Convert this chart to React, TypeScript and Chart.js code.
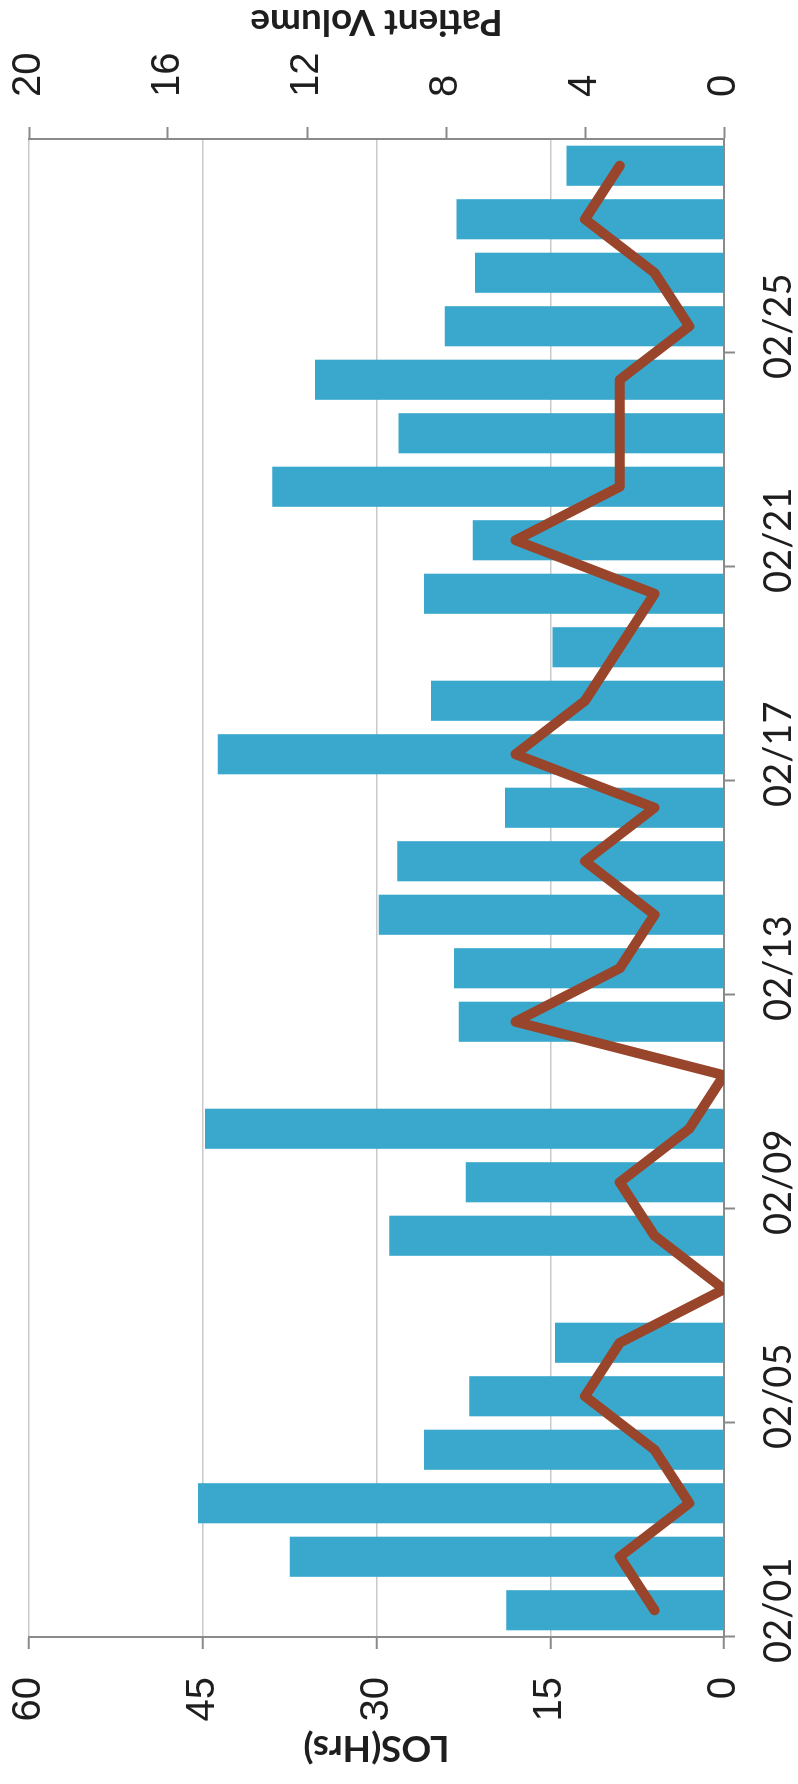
import React, { useEffect, useRef } from 'react';
import { Chart, registerables } from 'chart.js';

Chart.register(...registerables);

// ---- Data (Feb 01 .. Feb 28) ----
const dates = [
  '02/01', '02/02', '02/03', '02/04', '02/05', '02/06', '02/07',
  '02/08', '02/09', '02/10', '02/11', '02/12', '02/13', '02/14',
  '02/15', '02/16', '02/17', '02/18', '02/19', '02/20', '02/21',
  '02/22', '02/23', '02/24', '02/25', '02/26', '02/27', '02/28',
];
const losHours = [
  18.8, 37.5, 45.4, 25.9, 22.0, 14.6, 0,
  28.9, 22.3, 44.8, 0, 22.9, 23.3, 29.8,
  28.2, 18.9, 43.7, 25.3, 14.8, 25.9, 21.7,
  39.0, 28.1, 35.3, 24.1, 21.5, 23.1, 13.6,
];
const patientVolume = [
  2, 3, 1, 2, 4, 3, 0,
  2, 3, 1, 0, 6, 3, 2,
  4, 2, 6, 4, 3, 2, 6,
  3, 3, 3, 1, 2, 4, 3,
];
const losTicks = [0, 15, 30, 45, 60];
const volumeTicks = [0, 4, 8, 12, 16, 20];

// chart is drawn "landscape" then rotated -90deg onto the portrait page
const CW = 1784;
const CH = 798;

const volumeTitlePlugin = {
  id: 'volumeTitle',
  afterDraw(chart: any) {
    const { ctx, chartArea } = chart;
    ctx.save();
    ctx.translate(1762, (chartArea.top + chartArea.bottom) / 2);
    ctx.rotate(-Math.PI / 2);
    ctx.font = 'bold 37px Lato';
    ctx.fillStyle = '#1e1e1e';
    ctx.textAlign = 'center';
    ctx.textBaseline = 'middle';
    ctx.fillText('Patient Volume', 0, 0);
    ctx.restore();
  },
};

const noPad = (s: any) => {
  s.paddingTop = 0;
  s.paddingBottom = 0;
  s.paddingLeft = 0;
  s.paddingRight = 0;
};

export default function App() {
  const ref = useRef<HTMLCanvasElement | null>(null);

  useEffect(() => {
    const canvas = ref.current;
    if (!canvas) return;
    const chart = new Chart(canvas, {
      type: 'bar',
      data: {
        labels: dates,
        datasets: [
          {
            type: 'line',
            label: 'Patient Volume',
            data: patientVolume,
            yAxisID: 'y1',
            borderColor: '#99452b',
            borderWidth: 10,
            borderJoinStyle: 'round',
            borderCapStyle: 'round',
            pointRadius: 0,
            tension: 0,
            order: 0,
          } as any,
          {
            type: 'bar',
            label: 'LOS(Hrs)',
            data: losHours,
            yAxisID: 'y',
            backgroundColor: '#3aa8cc',
            borderWidth: 0,
            barPercentage: 0.75,
            categoryPercentage: 1,
            order: 1,
          },
        ],
      },
      options: {
        responsive: false,
        animation: false,
        devicePixelRatio: 1,
        layout: { padding: { top: 29, left: 0, right: 0, bottom: 0 } },
        plugins: { legend: { display: false }, tooltip: { enabled: false } },
        scales: {
          x: {
            type: 'category',
            offset: true,
            afterFit: (s: any) => { s.height = 74; noPad(s); },
            grid: {
              offset: true,
              drawOnChartArea: false,
              drawTicks: true,
              tickLength: 11,
              tickWidth: 2,
              tickColor: (c: any) => (c.index % 4 === 0 ? '#8a8a8a' : 'rgba(0,0,0,0)'),
            },
            border: { display: true, color: '#8a8a8a', width: 2 },
            ticks: {
              autoSkip: false,
              maxRotation: 0,
              minRotation: 0,
              padding: 21,
              color: '#1e1e1e',
              font: { family: 'Lato', size: 38 },
              callback: (_v: any, i: number) => (i % 4 === 0 ? dates[i] : ''),
            },
          },
          y: {
            type: 'linear',
            position: 'left',
            min: 0,
            max: 60,
            afterFit: (s: any) => { s.width = 147; noPad(s); },
            afterBuildTicks: (s: any) => { s.ticks = losTicks.map((v) => ({ value: v })); },
            grid: {
              color: '#c9c9c9',
              lineWidth: 1.5,
              drawTicks: true,
              tickLength: 12,
              tickColor: '#8a8a8a',
              tickWidth: 2,
            },
            border: { display: true, color: '#8a8a8a', width: 2 },
            ticks: {
              padding: 28,
              color: '#1e1e1e',
              font: { family: 'Liberation Sans', size: 40 },
            },
            title: {
              display: true,
              text: 'LOS(Hrs)',
              color: '#1e1e1e',
              font: { family: 'Lato', size: 37, weight: 'bold' },
              padding: { top: 14, bottom: 0 },
            },
          },
          y1: {
            type: 'linear',
            position: 'right',
            min: 0,
            max: 20,
            afterFit: (s: any) => { s.width = CW - 1645; noPad(s); },
            afterBuildTicks: (s: any) => { s.ticks = volumeTicks.map((v) => ({ value: v })); },
            grid: {
              drawOnChartArea: false,
              drawTicks: true,
              tickLength: 12,
              tickColor: '#8a8a8a',
              tickWidth: 2,
            },
            border: { display: true, color: '#8a8a8a', width: 2 },
            ticks: {
              padding: 30,
              color: '#1e1e1e',
              font: { family: 'Liberation Sans', size: 40 },
            },
          },
        },
      },
      plugins: [volumeTitlePlugin],
    });
    return () => chart.destroy();
  }, []);

  return (
    <div
      style={{
        position: 'absolute',
        left: 0,
        top: 0,
        width: CH,
        height: CW,
        overflow: 'hidden',
        background: '#ffffff',
      }}
    >
      <div
        style={{
          position: 'absolute',
          left: 0,
          top: 0,
          width: CW,
          height: CH,
          transformOrigin: '0 0',
          transform: `translate(0px, ${CW}px) rotate(-90deg)`,
        }}
      >
        <canvas ref={ref} width={CW} height={CH} style={{ width: CW, height: CH, display: 'block' }} />
      </div>
    </div>
  );
}
